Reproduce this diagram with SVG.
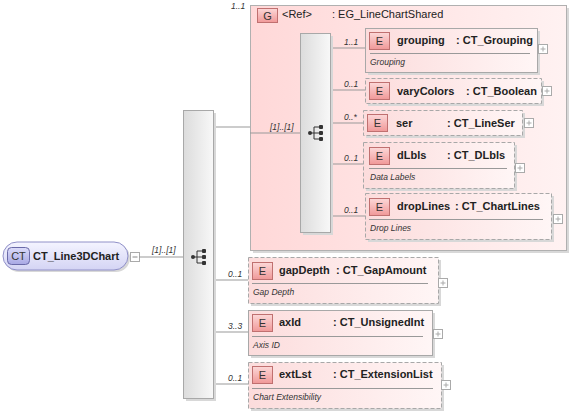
<svg xmlns="http://www.w3.org/2000/svg" width="570" height="413" viewBox="0 0 570 413">
<defs>
<linearGradient id="gEl" x1="0" y1="0" x2="1" y2="0"><stop offset="0" stop-color="#fcdcdc"/><stop offset="1" stop-color="#fff6f6"/></linearGradient>
<linearGradient id="gGrp" x1="0" y1="0" x2="1" y2="0"><stop offset="0" stop-color="#ffd8d8"/><stop offset="1" stop-color="#fff2f2"/></linearGradient>
<linearGradient id="gBadge" x1="0" y1="0" x2="0" y2="1"><stop offset="0" stop-color="#fcd8d8"/><stop offset="1" stop-color="#f09898"/></linearGradient>
<linearGradient id="gSeq" x1="0" y1="0" x2="1" y2="0"><stop offset="0" stop-color="#dcdcdc"/><stop offset="1" stop-color="#f8f8f8"/></linearGradient>
<linearGradient id="gCT" x1="0" y1="0" x2="0" y2="1"><stop offset="0" stop-color="#f4f4ff"/><stop offset="1" stop-color="#d4d4f4"/></linearGradient>
<linearGradient id="gCTb" x1="0" y1="0" x2="0" y2="1"><stop offset="0" stop-color="#dcdcfa"/><stop offset="1" stop-color="#a8a8e4"/></linearGradient>
<g id="seqIcon">
<circle cx="-6" cy="0" r="2" fill="#333"/>
<path d="M-6 0H-2M-2 -6V6M-2 -6H4M-2 0H4M-2 6H4" stroke="#333" stroke-width="1" fill="none"/>
<rect x="3" y="-8" width="4" height="4" rx="1" fill="#333"/>
<rect x="3" y="-2" width="4" height="4" rx="1" fill="#333"/>
<rect x="3" y="4" width="4" height="4" rx="1" fill="#333"/>
</g>
<g id="plus"><rect x="0" y="0" width="9" height="9" fill="#fff" stroke="#aaa" stroke-width="1"/><path d="M2 4.5H7M4.5 2V7" stroke="#aaa" stroke-width="1"/></g>
</defs>
<style>
.name{font-family:"Liberation Sans",Arial,sans-serif;font-size:11px;font-weight:bold;fill:#222}
.ann{font-family:"Liberation Sans",Arial,sans-serif;font-size:8.5px;font-style:italic;fill:#333}
.card{font-family:"Liberation Sans",Arial,sans-serif;font-size:8.5px;font-style:italic;fill:#333}
.badge{fill:url(#gBadge);stroke:#c07070;stroke-width:1}
.btxt{font-family:"Liberation Sans",Arial,sans-serif;font-size:11px;fill:#333;text-anchor:middle}
.el{fill:url(#gEl);stroke:#a8a8a8;stroke-width:1}
.opt{stroke-dasharray:4,2}
.sh{fill:#d8d8d8}
.sep{stroke:#999;stroke-width:1}
.conn{stroke:#999;stroke-width:1;fill:none}
</style>

<g id="CT_Line3DChart">
<rect x="5" y="244" width="125" height="28" rx="14" fill="#d8d8d8"/>
<rect x="3" y="242" width="125" height="28" rx="14" fill="url(#gCT)" stroke="#9090c8" stroke-width="1"/>
<rect x="7.5" y="247.5" width="22" height="17" rx="4" fill="url(#gCTb)" stroke="#6a6aa8" stroke-width="1"/>
<text class="btxt" x="18.5" y="260" style="font-size:11px">CT</text>
<text class="name" x="33" y="260">CT_Line3DChart</text>
<rect x="130.5" y="252.5" width="9" height="9" fill="#fff" stroke="#aaa"/>
<path d="M132.5 257H137.5" stroke="#888"/>
</g>

<g id="EG_LineChartShared">
<rect x="253" y="8" width="316" height="245" class="sh"/>
<rect x="250.5" y="5.5" width="316" height="245" fill="url(#gGrp)" stroke="#b0b0b0"/>
<rect x="257.5" y="8.5" width="20" height="14" class="badge"/>
<text class="btxt" x="267.5" y="19.5">G</text>
<text class="name" x="282" y="18" style="font-weight:normal">&lt;Ref&gt;</text>
<text class="name" x="332" y="18" style="font-weight:normal">: EG_LineChartShared</text>
</g>

<g id="connectors">
<path class="conn" d="M139 257H183"/>
<path class="conn" d="M213 127H250"/>
<path class="conn" d="M250 133H300"/>
<path class="conn" d="M330 48H365"/>
<path class="conn" d="M330 90H365"/>
<path class="conn" d="M330 123H363"/>
<path class="conn" d="M330 164H363"/>
<path class="conn" d="M330 216H365"/>
<path class="conn" d="M213 280H248"/>
<path class="conn" d="M213 332H248"/>
<path class="conn" d="M213 384H248"/>
<text class="card" x="152" y="253">[1]..[1]</text>
<text class="card" x="231" y="9">1..1</text>
<text class="card" x="270" y="130">[1]..[1]</text>
<text class="card" x="344" y="45">1..1</text>
<text class="card" x="344" y="87">0..1</text>
<text class="card" x="344" y="120">0..*</text>
<text class="card" x="344" y="161">0..1</text>
<text class="card" x="344" y="213">0..1</text>
<text class="card" x="228" y="277">0..1</text>
<text class="card" x="228" y="329">3..3</text>
<text class="card" x="228" y="381">0..1</text>
</g>

<g id="seqOuter">
<rect x="186" y="113" width="30" height="288" class="sh"/>
<rect x="183.5" y="110.5" width="30" height="288" fill="url(#gSeq)" stroke="#a8a8a8"/>
<use href="#seqIcon" x="199" y="257"/>
</g>

<g id="seqInner">
<rect x="303" y="36" width="30" height="199" class="sh"/>
<rect x="300.5" y="33.5" width="30" height="199" fill="url(#gSeq)" stroke="#a8a8a8"/>
<use href="#seqIcon" x="316" y="133"/>
</g>

<g id="grouping">
<rect x="368" y="31" width="172" height="44" class="sh"/>
<rect x="365.5" y="28.5" width="172" height="44" class="el"/>
<rect x="369.5" y="32.5" width="20" height="17" class="badge"/>
<text class="btxt" x="379.5" y="45">E</text>
<text class="name" x="397" y="44">grouping</text>
<text class="name" x="456" y="44">: CT_Grouping</text>
<path class="sep" d="M370 53.5H530"/>
<text class="ann" x="370" y="65">Grouping</text>
<use href="#plus" x="538.5" y="44.5"/>
</g>

<g id="varyColors">
<rect x="368" y="81" width="176" height="25" class="sh"/>
<rect x="365.5" y="78.5" width="176" height="25" class="el opt"/>
<rect x="369.5" y="82.5" width="20" height="17" class="badge"/>
<text class="btxt" x="379.5" y="95">E</text>
<text class="name" x="397" y="95">varyColors</text>
<text class="name" x="466" y="95">: CT_Boolean</text>
<use href="#plus" x="542.5" y="86.5"/>
</g>

<g id="ser">
<rect x="366" y="113" width="159" height="25" class="sh"/>
<rect x="363.5" y="110.5" width="159" height="25" class="el opt"/>
<rect x="367.5" y="114.5" width="20" height="17" class="badge"/>
<text class="btxt" x="377.5" y="127">E</text>
<text class="name" x="396" y="127">ser</text>
<text class="name" x="447" y="127">: CT_LineSer</text>
<use href="#plus" x="524.5" y="118.5"/>
</g>

<g id="dLbls">
<rect x="366" y="145" width="151" height="46" class="sh"/>
<rect x="363.5" y="142.5" width="151" height="46" class="el opt"/>
<rect x="369.5" y="147.5" width="20" height="17" class="badge"/>
<text class="btxt" x="379.5" y="160">E</text>
<text class="name" x="397" y="159">dLbls</text>
<text class="name" x="447" y="159">: CT_DLbls</text>
<path class="sep" d="M369 168.5H507"/>
<text class="ann" x="370" y="180">Data Labels</text>
<use href="#plus" x="515.5" y="163.5"/>
</g>

<g id="dropLines">
<rect x="368" y="196" width="186" height="46" class="sh"/>
<rect x="365.5" y="193.5" width="186" height="46" class="el opt"/>
<rect x="369.5" y="198.5" width="20" height="17" class="badge"/>
<text class="btxt" x="379.5" y="211">E</text>
<text class="name" x="397" y="210">dropLines</text>
<text class="name" x="455" y="210">: CT_ChartLines</text>
<path class="sep" d="M369 219.5H543"/>
<text class="ann" x="370" y="231">Drop Lines</text>
<use href="#plus" x="553.5" y="214.5"/>
</g>

<g id="gapDepth">
<rect x="251" y="260" width="190" height="46" class="sh"/>
<rect x="248.5" y="257.5" width="190" height="46" class="el opt"/>
<rect x="252.5" y="262.5" width="20" height="17" class="badge"/>
<text class="btxt" x="262.5" y="275">E</text>
<text class="name" x="279" y="274">gapDepth</text>
<text class="name" x="336" y="274">: CT_GapAmount</text>
<path class="sep" d="M252 283.5H428"/>
<text class="ann" x="253" y="295">Gap Depth</text>
<use href="#plus" x="438.5" y="278.5"/>
</g>

<g id="axId">
<rect x="251" y="313" width="184" height="45" class="sh"/>
<rect x="248.5" y="310.5" width="184" height="45" class="el"/>
<rect x="252.5" y="314.5" width="20" height="17" class="badge"/>
<text class="btxt" x="262.5" y="327">E</text>
<text class="name" x="279" y="326">axId</text>
<text class="name" x="333" y="326">: CT_UnsignedInt</text>
<path class="sep" d="M252 336.5H423"/>
<text class="ann" x="253" y="348">Axis ID</text>
<use href="#plus" x="433.5" y="329.5"/>
</g>

<g id="extLst">
<rect x="251" y="365" width="193" height="46" class="sh"/>
<rect x="248.5" y="362.5" width="193" height="46" class="el opt"/>
<rect x="252.5" y="366.5" width="20" height="17" class="badge"/>
<text class="btxt" x="262.5" y="379">E</text>
<text class="name" x="279" y="378">extLst</text>
<text class="name" x="333" y="378">: CT_ExtensionList</text>
<path class="sep" d="M252 388.5H433"/>
<text class="ann" x="253" y="400">Chart Extensibility</text>
<use href="#plus" x="441.5" y="380.5"/>
</g>
</svg>
